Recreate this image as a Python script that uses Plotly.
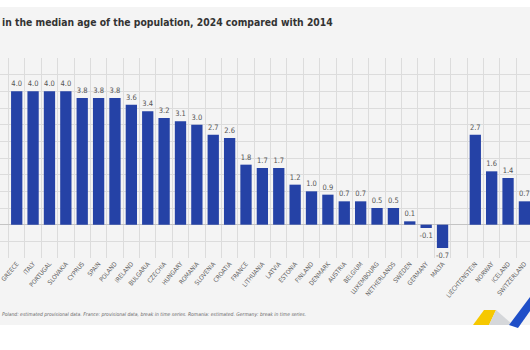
import plotly.graph_objects as go

# ---- data ----
eu_countries = ["GREECE", "ITALY", "PORTUGAL", "SLOVAKIA", "CYPRUS", "SPAIN", "POLAND",
                "IRELAND", "BULGARIA", "CZECHIA", "HUNGARY", "ROMANIA", "SLOVENIA",
                "CROATIA", "FRANCE", "LITHUANIA", "LATVIA", "ESTONIA", "FINLAND",
                "DENMARK", "AUSTRIA", "BELGIUM", "LUXEMBOURG", "NETHERLANDS", "SWEDEN",
                "GERMANY", "MALTA"]
eu_values = [4.0, 4.0, 4.0, 4.0, 3.8, 3.8, 3.8, 3.6, 3.4, 3.2, 3.1, 3.0, 2.7, 2.6,
             1.8, 1.7, 1.7, 1.2, 1.0, 0.9, 0.7, 0.7, 0.5, 0.5, 0.1, -0.1, -0.7]
efta_countries = ["LIECHTENSTEIN", "NORWAY", "ICELAND", "SWITZERLAND"]
efta_values = [2.7, 1.6, 1.4, 0.7]

title_text = "in the median age of the population, 2024 compared with 2014"
note_text = ("Poland: estimated provisional data. France: provisional data, break in time series. "
             "Romania: estimated. Germany: break in time series.")

# build category axis with an empty slot between groups
x_cats = eu_countries + [" "] + efta_countries
y_vals = eu_values + [None] + efta_values
labels = [("" if v is None else f"{v:.1f}") for v in y_vals]

W, H = 530, 350
FONT = "Liberation Sans Narrow, DejaVu Sans Condensed, Arial Narrow, sans-serif"
BAR = "#2542a6"

fig = go.Figure()
fig.add_trace(go.Bar(
    x=x_cats, y=y_vals, marker=dict(color=BAR, line=dict(width=0)),
    width=0.69, text=labels, textposition="outside", cliponaxis=False,
    constraintext="none",
    textfont=dict(family=FONT, size=7.5, color="#555555"),
    hoverinfo="skip",
))

def px(xp):
    return xp / W

def py(yp):
    return 1 - yp / H

shapes = [
    # light gray panel
    dict(type="rect", xref="paper", yref="paper", x0=0, x1=1, y0=py(325), y1=py(7),
         fillcolor="#f4f4f4", line=dict(width=0), layer="below"),
    # logo pieces (decorative)
    dict(type="path", xref="paper", yref="paper",
         path=f"M {px(473)} {py(325)} L {px(484)} {py(310)} L {px(496)} {py(310)} L {px(489)} {py(325)} Z",
         fillcolor="#f6c800", line=dict(width=0), layer="above"),
    dict(type="path", xref="paper", yref="paper",
         path=f"M {px(489)} {py(325)} L {px(496)} {py(310)} L {px(511)} {py(323)} L {px(509)} {py(325)} Z",
         fillcolor="#d5d7da", line=dict(width=0), layer="above"),
    dict(type="path", xref="paper", yref="paper",
         path=f"M {px(509)} {py(325)} L {px(530)} {py(297)} L {px(530)} {py(311)} L {px(518)} {py(328)} Z",
         fillcolor="#1f4fc8", line=dict(width=0), layer="above"),
]

fig.update_layout(
    width=W, height=H,
    margin=dict(l=0, r=0, t=0, b=0),
    paper_bgcolor="white",
    plot_bgcolor="rgba(0,0,0,0)",
    showlegend=False,
    bargap=0.31,
    shapes=shapes,
    xaxis=dict(
        type="category", domain=[0, 1], range=[-1.02, 31.34],
        tickson="boundaries", showgrid=True, gridcolor="#dcdcdc", gridwidth=1,
        ticks="", tickangle=-50, automargin=False,
        tickfont=dict(family=FONT, size=6.3, color="#5e5e5e"),
        showline=False, zeroline=False, fixedrange=True,
    ),
    yaxis=dict(
        domain=[(H - 258) / H, (H - 58) / H], range=[-1.0, 5.0],
        dtick=0.5, showgrid=True, gridcolor="#dcdcdc", gridwidth=1,
        zeroline=True, zerolinecolor="#c4c4c4", zerolinewidth=1,
        showticklabels=False, ticks="", showline=False, automargin=False,
        fixedrange=True,
    ),
    annotations=[
        dict(text=title_text, xref="paper", yref="paper", x=0, y=py(22),
             xanchor="left", yanchor="middle", showarrow=False,
             font=dict(family=FONT, size=10.3, color="#333333", weight="bold")),
        dict(text=note_text, xref="paper", yref="paper", x=0, y=py(314),
             xanchor="left", yanchor="middle", showarrow=False,
             font=dict(family=FONT, size=5, color="#666666", style="italic")),
    ],
)

fig.write_html("out.html")
